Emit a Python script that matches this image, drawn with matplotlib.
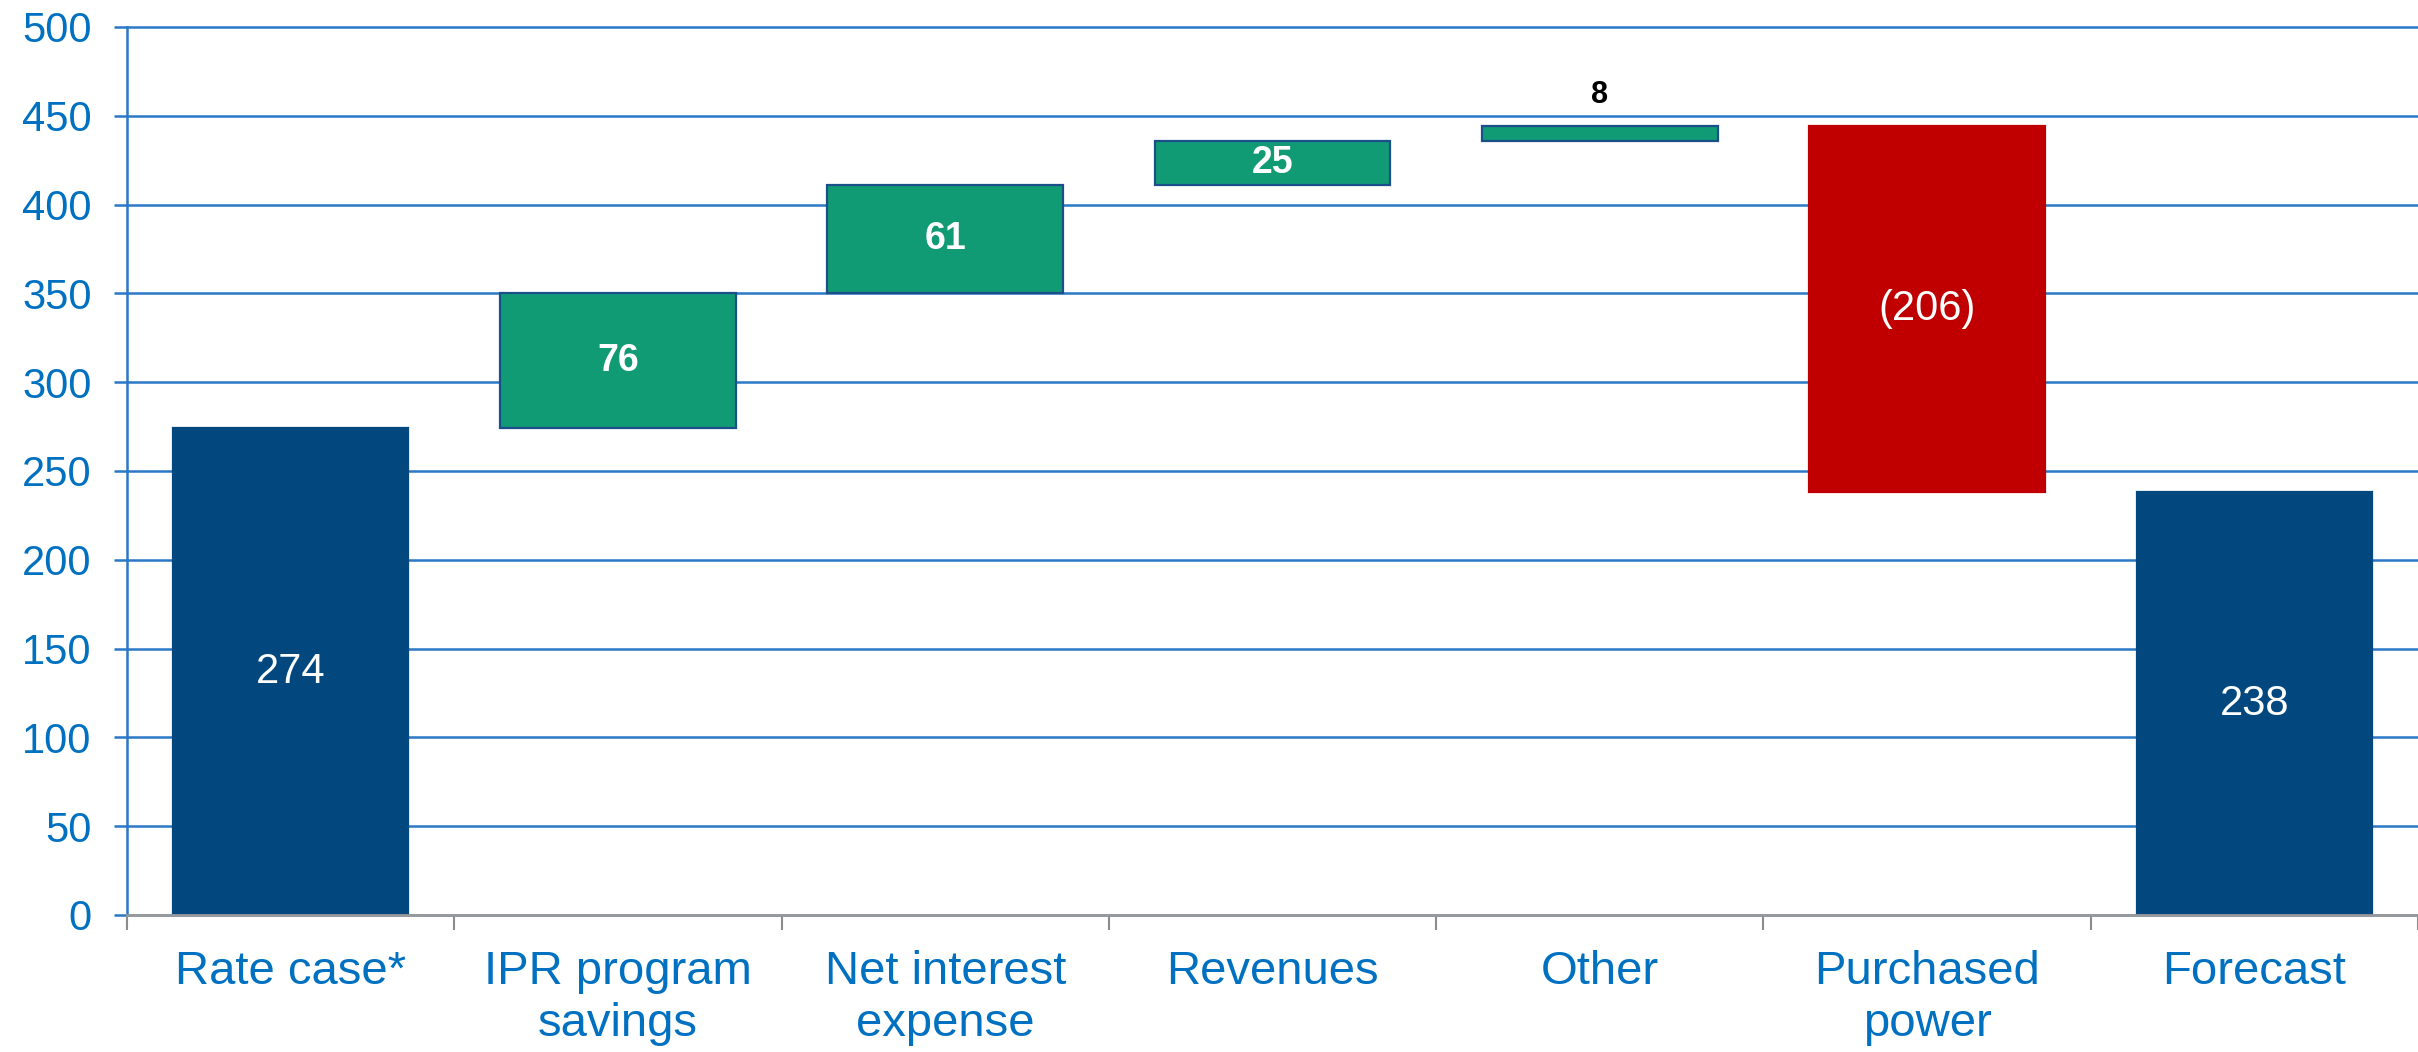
import matplotlib
matplotlib.use("Agg")
import matplotlib.pyplot as plt
import numpy as np

# ─── data ────────────────────────────────────────────────────────────────────
CATEGORIES = ["Rate case*", "IPR program\nsavings", "Net interest\nexpense",
              "Revenues", "Other", "Purchased\npower", "Forecast"]
CHANGES = [274, 76, 61, 25, 8, -206, 238]
KIND = ["total", "delta", "delta", "delta", "delta", "delta", "total"]
LABELS = ["274", "76", "61", "25", "8", "(206)", "238"]
Y_TICKS = [0, 50, 100, 150, 200, 250, 300, 350, 400, 450, 500]

BLUE = "#03477F"
GREEN = "#109B75"
RED = "#C00000"
TICK_BLUE = "#0070C0"
GRID_BLUE = "#2A78C6"

plt.rcParams["font.family"] = ["Liberation Sans", "DejaVu Sans"]

fig = plt.figure(figsize=(24.18, 10.52), dpi=100)
ax = fig.add_axes([127 / 2418, 1 - 915 / 1052, 1 - 127 / 2418, (915 - 27) / 1052])

x = np.arange(len(CATEGORIES))
running = 0
bottoms, heights, colors = [], [], []
for v, k in zip(CHANGES, KIND):
    if k == "total":
        bottoms.append(0)
        heights.append(v)
        colors.append(BLUE)
        running = v
    else:
        start = running
        running = running + v
        bottoms.append(min(start, running))
        heights.append(abs(v))
        colors.append(GREEN if v > 0 else RED)

edges = [c if c != GREEN else "#1B4F8A" for c in colors]
ax.bar(x, heights, bottom=bottoms, width=0.72, color=colors,
       edgecolor=edges, linewidth=1.6, zorder=3)

for i, (b, h, lab, k) in enumerate(zip(bottoms, heights, LABELS, KIND)):
    mid = b + h / 2
    if CHANGES[i] < 0 or k == "total":
        ax.text(i, mid, lab, ha="center", va="center", color="white", fontsize=30)
    elif h < 15:
        # small step: label sits above the bar
        ax.text(i, b + h + 13, lab, ha="center", va="baseline", color="black",
                fontsize=22, fontweight="bold")
    else:
        ax.text(i, mid, lab, ha="center", va="center", color="white",
                fontsize=27, fontweight="bold")

ax.set_xlim(-0.5, len(CATEGORIES) - 0.5)
ax.set_ylim(0, 500)
ax.set_yticks(Y_TICKS)
ax.set_yticklabels([str(t) for t in Y_TICKS])
ax.yaxis.grid(True, color=GRID_BLUE, linewidth=1.8, zorder=0)
for gl in ax.yaxis.get_gridlines():
    gl.set_clip_on(False)
ax.set_axisbelow(True)

ax.set_xticks(x)
ax.set_xticklabels(CATEGORIES, fontsize=34, color=TICK_BLUE, linespacing=1.25)
ax.set_xticks(np.arange(-0.5, len(CATEGORIES), 1.0), minor=True)
ax.tick_params(axis="x", which="major", length=0, pad=25)
ax.tick_params(axis="x", which="minor", length=11, width=1.5, color="#8C8C8C")
ax.tick_params(axis="y", labelsize=30, labelcolor=TICK_BLUE, length=9.5,
               width=1.8, color=GRID_BLUE, pad=16)

for s in ["top", "right"]:
    ax.spines[s].set_visible(False)
ax.spines["left"].set_color(GRID_BLUE)
ax.spines["left"].set_linewidth(1.8)
ax.spines["bottom"].set_color("#9A9A9A")
ax.spines["bottom"].set_linewidth(2)
ax.spines["bottom"].set_zorder(4)

fig.savefig("out.png", dpi=100, facecolor="white")
plt.close(fig)
